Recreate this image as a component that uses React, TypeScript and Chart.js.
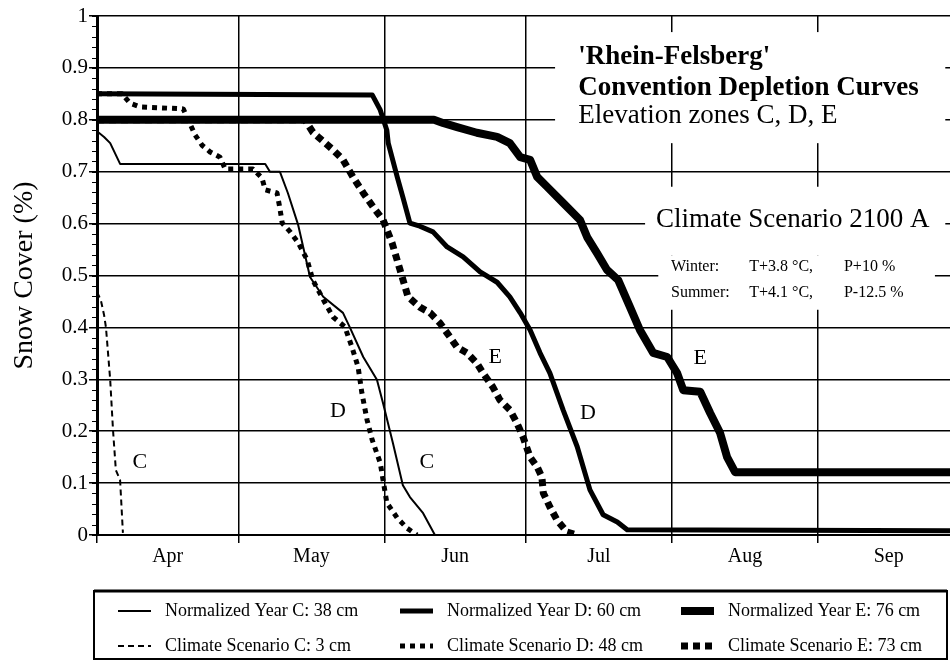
import React, { useEffect, useRef } from "react";
import { Chart, registerables } from "chart.js";

Chart.register(...registerables);

const FONT = "'Liberation Serif', 'Times New Roman', serif";

// ---- axis data ----
const monthStarts = [0, 30, 61, 91, 122, 153];
const monthMids = [15, 45.5, 76, 106.5, 137.5, 168];
const monthLabels = ["Apr", "May", "Jun", "Jul", "Aug", "Sep"];
const xMaxDay = 181;
const yTickStep = 0.1;
const yMinorStep = 0.02;

// ---- series (day since 1 April, snow-cover fraction) ----
const normCDays = [0, 1.5, 2.8, 4.9, 35.7, 36.7, 38.8, 40.5, 42.7, 45.2, 48.0, 52.2, 53.7, 56.5, 59.4, 60.7, 62.8, 64.9, 66.4, 69.2, 71.7, 181];
const normCValues = [0.778, 0.767, 0.755, 0.715, 0.715, 0.7, 0.7, 0.659, 0.597, 0.497, 0.459, 0.428, 0.399, 0.343, 0.299, 0.254, 0.177, 0.096, 0.073, 0.042, 0.0, 0.0];

const normDDays = [0, 58.4, 60.1, 61.5, 61.8, 63.7, 64.9, 66.4, 68.5, 71.3, 74.3, 77.7, 81.3, 84.9, 87.6, 89.8, 91.9, 94.0, 96.1, 98.9, 101.9, 104.6, 107.4, 110.4, 112.5, 181];
const normDValues = [0.85, 0.848, 0.819, 0.78, 0.755, 0.69, 0.651, 0.601, 0.595, 0.584, 0.555, 0.536, 0.507, 0.487, 0.459, 0.428, 0.395, 0.351, 0.312, 0.241, 0.17, 0.087, 0.039, 0.025, 0.01, 0.008];

const normEDays = [0, 71.5, 73.4, 76.4, 80.6, 84.9, 87.6, 89.8, 91.9, 93.4, 95.5, 98.9, 102.5, 104.0, 106.1, 108.2, 110.6, 113.1, 115.2, 118.0, 121.0, 123.1, 124.4, 128.0, 130.1, 132.2, 133.7, 135.4, 181];
const normEValues = [0.8, 0.8, 0.794, 0.786, 0.775, 0.767, 0.755, 0.728, 0.723, 0.69, 0.671, 0.64, 0.607, 0.574, 0.543, 0.511, 0.491, 0.439, 0.395, 0.351, 0.343, 0.312, 0.279, 0.276, 0.235, 0.197, 0.15, 0.121, 0.121];

const scenCDays = [0, 0.8, 1.5, 1.9, 2.8, 3.4, 4.0, 4.9, 5.5];
const scenCValues = [0.468, 0.453, 0.424, 0.4, 0.299, 0.202, 0.125, 0.106, 0.004];

const scenDDays = [0, 5.3, 7.0, 9.1, 18.3, 20.8, 22.3, 24.0, 26.1, 27.2, 33.1, 35.0, 35.7, 38.2, 38.8, 39.3, 41.0, 42.7, 44.6, 45.8, 48.4, 50.1, 52.6, 54.1, 55.4, 56.2, 57.3, 58.4, 60.1, 60.7, 61.5, 63.7, 65.8, 67.9];
const scenDValues = [0.85, 0.85, 0.832, 0.825, 0.821, 0.771, 0.751, 0.738, 0.728, 0.705, 0.705, 0.688, 0.665, 0.659, 0.63, 0.601, 0.584, 0.563, 0.53, 0.491, 0.447, 0.42, 0.401, 0.362, 0.324, 0.274, 0.222, 0.183, 0.139, 0.106, 0.062, 0.033, 0.013, 0.0];

const scenEDays = [0, 44.1, 45.8, 50.1, 52.2, 54.3, 56.5, 58.6, 60.7, 62.6, 64.3, 66.0, 68.5, 70.7, 72.8, 74.3, 76.4, 78.5, 80.6, 81.9, 84.0, 85.5, 87.6, 89.1, 90.4, 91.9, 93.4, 94.4, 94.7, 96.1, 97.6, 99.7, 101.9];
const scenEValues = [0.8, 0.8, 0.776, 0.742, 0.723, 0.69, 0.659, 0.632, 0.607, 0.563, 0.511, 0.459, 0.439, 0.428, 0.408, 0.389, 0.362, 0.351, 0.331, 0.312, 0.285, 0.26, 0.241, 0.216, 0.189, 0.15, 0.131, 0.112, 0.081, 0.054, 0.029, 0.006, 0.0];

const seriesLabels = [
  "Normalized Year C: 38 cm",
  "Normalized Year D: 60 cm",
  "Normalized Year E: 76 cm",
  "Climate Scenario C: 3 cm",
  "Climate Scenario D: 48 cm",
  "Climate Scenario E: 73 cm",
];

// ---- curve tags ----
const curveTagTexts = ["C", "D", "C", "E", "D", "E"];
const curveTagDays = [9.1, 51.1, 70.0, 84.5, 104.2, 128.0];
const curveTagValues = [0.141, 0.239, 0.141, 0.343, 0.235, 0.341];

// ---- annotation text ----
const titleLines = ["'Rhein-Felsberg'", "Convention Depletion Curves", "Elevation zones C, D, E"];
const scenarioTitle = "Climate Scenario 2100 A";
const scenarioRows = [
  ["Winter:", "T+3.8 °C,", "P+10 %"],
  ["Summer:", "T+4.1 °C,", "P-12.5 %"],
];

const toPoints = (xs: number[], ys: number[]) => xs.map((x, i) => ({ x, y: ys[i] }));

// annotation layout (in data units)
const whiteBoxes = [
  { x0: 97.2, x1: 180, y0: 0.969, y1: 0.755 },
  { x0: 116.3, x1: 180, y0: 0.671, y1: 0.539 },
  { x0: 119.1, x1: 177.8, y0: 0.539, y1: 0.434 },
];

const annotationPlugin = {
  id: "annotationsCustom",
  beforeDatasetsDraw(chart: any) {
    const { ctx } = chart;
    const xs = chart.scales.x;
    const ys = chart.scales.y;
    ctx.save();
    ctx.fillStyle = "#fff";
    for (const b of whiteBoxes) {
      const px0 = xs.getPixelForValue(b.x0);
      const px1 = xs.getPixelForValue(b.x1);
      const py0 = ys.getPixelForValue(b.y0);
      const py1 = ys.getPixelForValue(b.y1);
      ctx.fillRect(px0, py0, px1 - px0, py1 - py0);
    }
    ctx.fillStyle = "#000";
    ctx.textBaseline = "middle";
    ctx.textAlign = "left";
    const tx = xs.getPixelForValue(102.1);
    const titleYs = [0.92, 0.861, 0.808];
    titleLines.forEach((t, i) => {
      ctx.font = `${i < 2 ? "bold " : ""}27px ${FONT}`;
      ctx.fillText(t, tx, ys.getPixelForValue(titleYs[i]));
    });
    ctx.font = `27px ${FONT}`;
    ctx.fillText(scenarioTitle, xs.getPixelForValue(118.6), ys.getPixelForValue(0.607));
    ctx.font = `16px ${FONT}`;
    const colDays = [121.8, 138.4, 158.5];
    const rowVals = [0.516, 0.466];
    scenarioRows.forEach((row, r) => {
      row.forEach((cell, c) => {
        ctx.fillText(cell, xs.getPixelForValue(colDays[c]), ys.getPixelForValue(rowVals[r]));
      });
    });
    ctx.restore();
  },
  afterDatasetsDraw(chart: any) {
    const { ctx } = chart;
    const xs = chart.scales.x;
    const ys = chart.scales.y;
    ctx.save();
    ctx.fillStyle = "#000";
    ctx.font = `22px ${FONT}`;
    ctx.textAlign = "center";
    ctx.textBaseline = "middle";
    curveTagTexts.forEach((t, i) => {
      ctx.fillText(t, xs.getPixelForValue(curveTagDays[i]), ys.getPixelForValue(curveTagValues[i]));
    });
    ctx.restore();
  },
  afterDraw(chart: any) {
    const { ctx } = chart;
    const ys = chart.scales.y;
    const left = chart.chartArea.left;
    ctx.save();
    ctx.strokeStyle = "#000";
    ctx.lineWidth = 1;
    const n = Math.round(1 / yMinorStep);
    for (let i = 0; i <= n; i++) {
      const v = i * yMinorStep;
      const py = Math.round(ys.getPixelForValue(v)) + 0.5;
      ctx.beginPath();
      ctx.moveTo(left - 5, py);
      ctx.lineTo(left, py);
      ctx.stroke();
    }
    // legend
    const lx0 = 94, lx1 = 947, ly0 = 591, ly1 = 659;
    ctx.lineWidth = 2;
    ctx.strokeRect(lx0, ly0, lx1 - lx0, ly1 - ly0);
    ctx.lineWidth = 3;
    ctx.beginPath();
    ctx.moveTo(lx0, ly0);
    ctx.lineTo(lx1, ly0);
    ctx.stroke();
    const colX = [118, 400, 681];
    const rowY = [611, 646];
    chart.data.datasets.forEach((ds: any, i: number) => {
      const cx = colX[i % 3];
      const cy = rowY[Math.floor(i / 3)];
      ctx.lineWidth = ds.borderWidth;
      ctx.setLineDash(ds.borderDash || []);
      ctx.lineCap = "butt";
      ctx.beginPath();
      ctx.moveTo(cx, cy);
      ctx.lineTo(cx + 33, cy);
      ctx.stroke();
      ctx.setLineDash([]);
      ctx.fillStyle = "#000";
      ctx.font = `18px ${FONT}`;
      ctx.textAlign = "left";
      ctx.textBaseline = "middle";
      ctx.fillText(ds.label, cx + 47, cy);
    });
    ctx.restore();
  },
};

export default function App() {
  const ref = useRef<HTMLCanvasElement | null>(null);
  useEffect(() => {
    if (!ref.current) return;
    const chart = new Chart(ref.current, {
      type: "line",
      data: {
        datasets: [
          { label: seriesLabels[0], data: toPoints(normCDays, normCValues), borderColor: "#000", borderWidth: 2 },
          { label: seriesLabels[1], data: toPoints(normDDays, normDValues), borderColor: "#000", borderWidth: 5 },
          { label: seriesLabels[2], data: toPoints(normEDays, normEValues), borderColor: "#000", borderWidth: 8 },
          { label: seriesLabels[3], data: toPoints(scenCDays, scenCValues), borderColor: "#000", borderWidth: 2, borderDash: [6, 4] },
          { label: seriesLabels[4], data: toPoints(scenDDays, scenDValues), borderColor: "#000", borderWidth: 5, borderDash: [5, 5] },
          { label: seriesLabels[5], data: toPoints(scenEDays, scenEValues), borderColor: "#000", borderWidth: 7, borderDash: [7, 5] },
        ] as any,
      },
      options: {
        animation: false,
        responsive: false,
        devicePixelRatio: 1,
        layout: { padding: { top: 16, right: 0, bottom: 80, left: 0 } },
        elements: { point: { radius: 0 }, line: { tension: 0, borderJoinStyle: "round", borderCapStyle: "butt" } },
        plugins: { legend: { display: false }, tooltip: { enabled: false }, title: { display: false } },
        scales: {
          x: {
            type: "linear",
            min: 0,
            max: xMaxDay,
            afterBuildTicks: (scale: any) => {
              scale.ticks = [...monthStarts, ...monthMids].sort((a, b) => a - b).map((v) => ({ value: v }));
            },
            afterFit: (scale: any) => {
              scale.height = 50;
              scale.paddingLeft = 0;
              scale.paddingRight = 0;
            },
            ticks: {
              autoSkip: false,
              maxRotation: 0,
              minRotation: 0,
              padding: 2,
              color: "#000",
              font: { family: FONT, size: 20 },
              callback: (value: any) => {
                const i = monthMids.indexOf(Number(value));
                return i >= 0 ? monthLabels[i] : "";
              },
            },
            grid: {
              color: (c: any) => (c.tick && monthStarts.includes(c.tick.value) ? "#000" : "rgba(0,0,0,0)"),
              tickColor: (c: any) => (c.tick && monthStarts.includes(c.tick.value) ? "#000" : "rgba(0,0,0,0)"),
              lineWidth: 1.5,
              tickLength: 8,
              drawTicks: true,
            },
            border: { display: true, color: "#000", width: 2 },
          },
          y: {
            type: "linear",
            min: 0,
            max: 1,
            afterFit: (scale: any) => {
              scale.width = 97;
              scale.paddingTop = 0;
              scale.paddingBottom = 0;
            },
            ticks: {
              stepSize: yTickStep,
              padding: 1,
              color: "#000",
              font: { family: FONT, size: 21 },
              callback: (value: any) => String(Number(Number(value).toFixed(1))),
            },
            grid: { color: "#000", lineWidth: 1.5, tickLength: 8, drawTicks: true, tickColor: "#000" },
            border: { display: true, color: "#000", width: 3 },
            title: {
              display: true,
              text: "Snow Cover (%)",
              color: "#000",
              font: { family: FONT, size: 28 },
              padding: { top: 8, bottom: 0 },
            },
          },
        },
      } as any,
      plugins: [annotationPlugin],
    });
    return () => chart.destroy();
  }, []);
  return (
    <div style={{ position: "absolute", left: 0, top: 0, width: 950, height: 665, background: "#fff" }}>
      <canvas ref={ref} width={950} height={665} style={{ display: "block" }} />
    </div>
  );
}
